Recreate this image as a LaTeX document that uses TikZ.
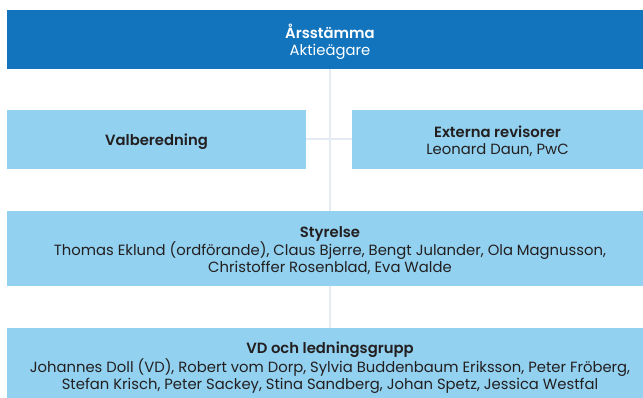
\documentclass[tikz,border=0pt]{standalone}
\usepackage{fontspec}
\setmainfont{Poppins}[BoldFont={Poppins SemiBold}]
\definecolor{darkblue}{HTML}{1174BD}
\definecolor{lightblue}{HTML}{92D1EF}
\definecolor{linecol}{HTML}{E4EBF2}
\definecolor{txt}{HTML}{231F20}
\begin{document}
\begin{tikzpicture}[x=1pt,y=-1pt,
  box/.style={inner sep=0pt, outer sep=0pt, draw=none},
  lbl/.style={align=center, font=\fontsize{14.8}{16.8}\selectfont, text=txt},
  conn/.style={draw=linecol, line width=2pt}]
\useasboundingbox (0,0) rectangle (643,398);
% connectors first
\coordinate (topc) at (330,69);
\coordinate (vdc) at (330,328);
\draw[conn] (topc) -- (vdc);
\coordinate (vr) at (306,139);
\coordinate (el) at (352,139);
\draw[conn] (vr) -- (el);
% boxes
\fill[darkblue] (7,10) rectangle (643,69);
\fill[lightblue] (7,110) rectangle (306,169);
\fill[lightblue] (352,110) rectangle (643,169);
\fill[lightblue] (7,211) rectangle (643,286);
\fill[lightblue] (7,328) rectangle (643,398);
% texts
\node[lbl, text=white] (ars) at (330,41.8) {\textbf{Årsstämma}\\Aktieägare};
\node[lbl] (val) at (156.5,141.8) {\textbf{Valberedning}};
\node[lbl] (ext) at (497.5,141) {\textbf{Externa revisorer}\\Leonard Daun, PwC};
\node[lbl] (sty) at (330,250.5) {\textbf{Styrelse}\\Thomas Eklund (ordförande), Claus Bjerre, Bengt Julander, Ola Magnusson,\\Christoffer Rosenblad, Eva Walde};
\node[lbl] (vd) at (330,367.8) {\textbf{VD och ledningsgrupp}\\Johannes Doll (VD), Robert vom Dorp, Sylvia Buddenbaum Eriksson, Peter Fröberg,\\Stefan Krisch, Peter Sackey, Stina Sandberg, Johan Spetz, Jessica Westfal};
\end{tikzpicture}
\end{document}
